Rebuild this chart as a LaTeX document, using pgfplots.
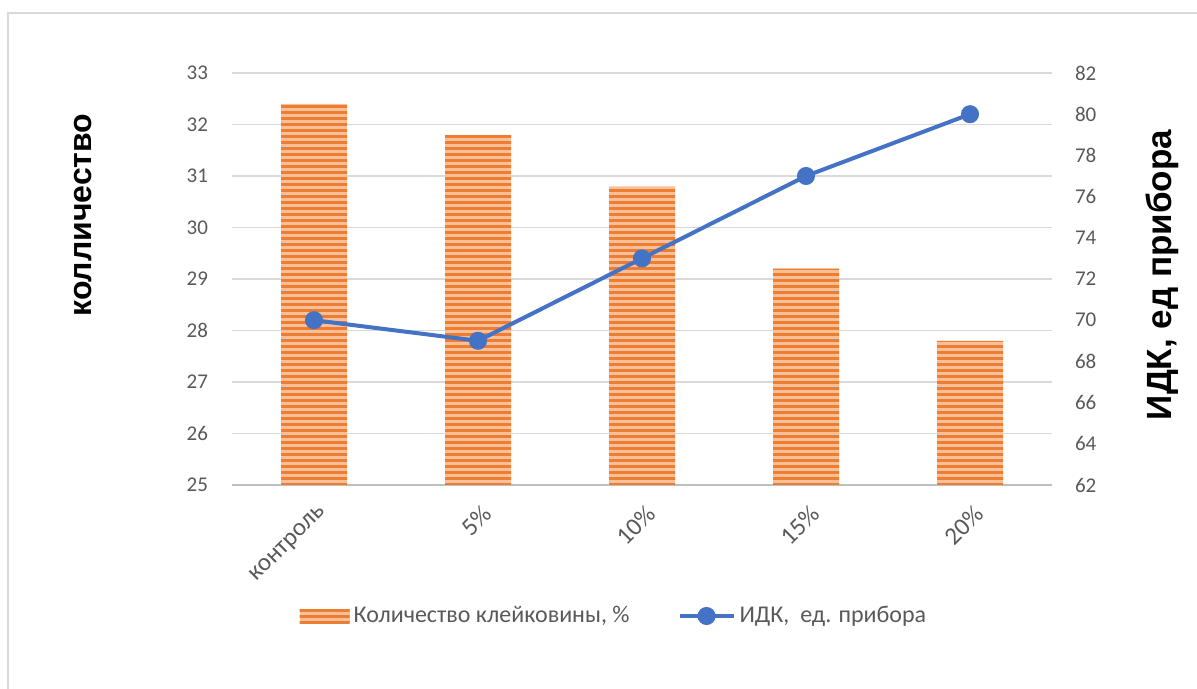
\documentclass[border=0pt]{standalone}
\usepackage{pgfplots}
\pgfplotsset{compat=1.18}
\usepackage{fontspec}
\setmainfont{Carlito}
\newfontfamily\arialfont{Liberation Sans}
\usetikzlibrary{patterns.meta}
\definecolor{barorange}{HTML}{ED7D31}
\definecolor{barlight}{HTML}{F8C09A}
\definecolor{lineblue}{HTML}{4472C4}
\definecolor{txtgrey}{HTML}{595959}
\definecolor{gridgrey}{HTML}{D9D9D9}
\definecolor{axisgrey}{HTML}{BFBFBF}
\tikzset{barstyle/.style={fill=barlight, draw=none, postaction={draw=none, pattern={Lines[angle=0,distance=3pt,line width=1.5pt]}, pattern color=barorange}}}
\pgfplotsset{
  common/.style={
    at={(116pt,102pt)}, anchor=south west, scale only axis,
    width=410pt, height=206pt, xmin=-0.5, xmax=4.5,
    major tick length=0pt,
    /pgf/number format/assume math mode=true,
    ticklabel style={font=\fontsize{10.5}{12}\selectfont, text=txtgrey},
  }
}
\begin{document}
\begin{tikzpicture}
\useasboundingbox (0pt,0pt) rectangle (598.5pt,344.5pt);
\draw[gridgrey, line width=0.8pt] (4pt,-1pt) -- (4pt,338pt) -- (599pt,338pt);
\begin{axis}[common,
  ymin=25, ymax=33, ytick={25,...,33},
  xtick={0,...,4}, xticklabels={контроль,5\%,10\%,15\%,20\%},
  axis x line*=bottom, axis y line*=left,
  y axis line style={draw=none},
  x axis line style={axisgrey, line width=1.2pt},
  ymajorgrids, grid style={gridgrey, line width=0.6pt},
  yticklabel style={xshift=-8.5pt},
  xticklabel style={rotate=45, anchor=east, yshift=-12pt, xshift=-2pt, font=\fontsize{12.5}{14}\selectfont},
]
\addplot[ybar, bar width=33pt, draw=none, barstyle] coordinates {(0,32.4) (1,31.8) (2,30.8) (3,29.2) (4,27.8)};
\end{axis}
\begin{axis}[common,
  ymin=62, ymax=82, ytick={62,64,...,82},
  axis y line*=right, axis x line=none,
  y axis line style={draw=none},
  yticklabel style={xshift=8pt},
  legend style={at={(0.467,-0.318)}, anchor=center, draw=none, fill=none,
    font=\fontsize{12}{14}\selectfont, text=txtgrey, legend columns=2,
    /tikz/every even column/.append style={column sep=22pt}},
  legend cell align=left,
]
\addlegendimage{legend image code/.code={\path[barstyle] (0pt,-3.5pt) rectangle (25pt,3.5pt);}}
\addlegendentry{Количество клейковины, \%}
\addplot[lineblue, line width=2pt, mark=*, mark size=3.5pt, mark options={fill=lineblue},
  legend image code/.code={\draw[lineblue,line width=2pt] (0pt,0pt)--(27pt,0pt); \fill[lineblue] (13.5pt,0pt) circle (3.5pt);}]
  coordinates {(0,70) (1,69) (2,73) (3,77) (4,80)};
\addlegendentry{ИДК,\ \ ед. прибора}
\end{axis}
\node[rotate=90, font=\arialfont\bfseries\fontsize{16}{19}\selectfont] at (41.5pt,237pt) {колличество};
\node[rotate=90, font=\arialfont\bfseries\fontsize{17.5}{20}\selectfont] at (581pt,207pt) {ИДК, ед прибора};
\end{tikzpicture}
\end{document}
